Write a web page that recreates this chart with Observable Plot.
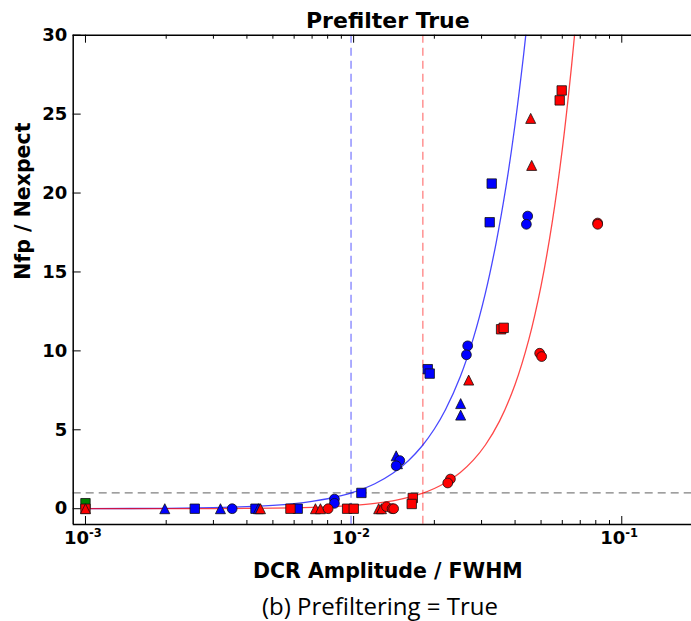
<!DOCTYPE html>
<html>
<head>
<meta charset="utf-8">
<script src="https://cdn.jsdelivr.net/npm/d3@7"></script>
<script src="https://cdn.jsdelivr.net/npm/@observablehq/plot@0.6"></script>
<style>
  html, body { margin: 0; padding: 0; background: #fff; overflow: hidden; }
  #wrap { position: relative; width: 691px; height: 621px; }
  #caption {
    position: absolute; left: 380px; top: 594px; transform: translateX(-50%);
    font-family: "Open Sans", sans-serif; font-size: 24px; line-height: 1;
    white-space: nowrap; color: #000;
  }
</style>
</head>
<body>
<div id="wrap">
  <div id="chart"></div>
  <div id="caption">(b) Prefiltering = True</div>
</div>
<script>
// ---- measurements: DCR amplitude / FWHM vs Nfp / Nexpect ----
const greenSquareX = [0.001];
const greenSquareY = [0.35];

const blueSquareX = [0.002556, 0.004305, 0.006187, 0.01069, 0.01890, 0.01922, 0.03273, 0.03217];
const blueSquareY = [0, 0, 0, 1.0, 8.84, 8.56, 20.6, 18.15];

const blueTriangleX = [0.001976, 0.003187, 0.004416, 0.01441, 0.01457, 0.02507, 0.02507];
const blueTriangleY = [0, 0, 0, 3.35, 2.85, 6.66, 5.93];

const blueCircleX = [0.003524, 0.00848, 0.00848, 0.01486, 0.01441, 0.02663, 0.02634, 0.04458, 0.04408];
const blueCircleY = [0, 0.61, 0.34, 3.05, 2.72, 10.32, 9.75, 18.54, 18.02];

const redSquareX = [0.001, 0.005813, 0.009458, 0.01001, 0.01662, 0.01647, 0.03548, 0.03628, 0.05970, 0.05868];
const redSquareY = [0, 0, 0, 0, 0.68, 0.30, 11.37, 11.46, 26.5, 25.87];

const redTriangleX = [0.001, 0.004494, 0.007205, 0.007521, 0.01240, 0.01270, 0.02686, 0.04574, 0.04613];
const redTriangleY = [0, 0, 0, 0, 0, 0, 8.15, 24.73, 21.75];

const redCircleX = [0.008035, 0.01326, 0.01391, 0.01410, 0.02296, 0.02244, 0.04941, 0.05026, 0.08130, 0.08130];
const redCircleY = [0, 0.13, 0, 0, 1.88, 1.63, 9.85, 9.64, 18.10, 18.02];

// fitted curves
const blueFitX = [0.001, 0.002, 0.003, 0.004, 0.005, 0.006, 0.007, 0.008, 0.009, 0.010, 0.012, 0.014, 0.016, 0.018, 0.020, 0.022, 0.025, 0.028, 0.031, 0.034, 0.037, 0.040, 0.043, 0.045];
const blueFitY = [0.006, 0.027, 0.068, 0.131, 0.217, 0.328, 0.466, 0.631, 0.824, 1.047, 1.584, 2.247, 3.043, 3.975, 5.05, 6.27, 8.38, 10.84, 13.66, 16.85, 20.40, 24.36, 28.70, 31.8];

const redFitX = [0.001, 0.002, 0.003, 0.004, 0.005, 0.006, 0.007, 0.008, 0.009, 0.010, 0.012, 0.014, 0.016, 0.018, 0.020, 0.022, 0.025, 0.028, 0.031, 0.035, 0.040, 0.045, 0.050, 0.055, 0.060, 0.065, 0.068];
const redFitY = [0.0005, 0.003, 0.009, 0.019, 0.034, 0.055, 0.082, 0.116, 0.158, 0.208, 0.336, 0.503, 0.713, 0.971, 1.28, 1.643, 2.298, 3.092, 4.037, 5.547, 7.872, 10.71, 14.12, 18.13, 22.77, 28.09, 31.6];

// thresholds
const blueThreshold = [0.00978];
const redThreshold = [0.01812];
const unityLevel = [1];

// axes
const xDomain = [0.0009, 0.2];
const yDomain = [-1, 30];
const xTickValues = [0.001, 0.01, 0.1];
const xTickBase = ["10", "10", "10"];
const xTickExponents = ["-3", "-2", "-1"];
const yTickValues = [0, 5, 10, 15, 20, 25, 30];
const yTickLabels = ["0", "5", "10", "15", "20", "25", "30"];

// ---- layout ----
const W = 691, H = 592;
const mTop = 34.7, mBottom = H - 524, mLeft = 72.7, mRight = 0;
const frameH = H - mTop - mBottom;
const frameW = W - mLeft - mRight;
const majorLen = 8, minorLen = 4;

const zip = (xs, ys) => xs.map((x, i) => ({x, y: ys[i]}));

// matplotlib-like marker shapes (half-size derived from r)
const mplSquare = {
  draw(ctx, size) {
    const h = Math.sqrt(size / Math.PI);
    ctx.moveTo(-h, -h); ctx.lineTo(h, -h); ctx.lineTo(h, h); ctx.lineTo(-h, h); ctx.closePath();
  }
};
const mplTriangle = {
  draw(ctx, size) {
    const h = Math.sqrt(size / Math.PI);
    ctx.moveTo(0, -h); ctx.lineTo(h, h); ctx.lineTo(-h, h); ctx.closePath();
  }
};

const groups = [
  {x: greenSquareX, y: greenSquareY, fill: "#008000", symbol: mplSquare, r: 4.7},
  {x: blueSquareX, y: blueSquareY, fill: "#0000ff", symbol: mplSquare, r: 4.7},
  {x: blueTriangleX, y: blueTriangleY, fill: "#0000ff", symbol: mplTriangle, r: 5.0},
  {x: blueCircleX, y: blueCircleY, fill: "#0000ff", symbol: "circle", r: 4.9},
  {x: redSquareX, y: redSquareY, fill: "#ff0000", symbol: mplSquare, r: 4.7},
  {x: redTriangleX, y: redTriangleY, fill: "#ff0000", symbol: mplTriangle, r: 5.0},
  {x: redCircleX, y: redCircleY, fill: "#ff0000", symbol: "circle", r: 4.9}
];

// minor log ticks from the scale itself
const minorTicks = d3.scaleLog().domain(xDomain).ticks()
  .filter(t => t > 0.00095 && !xTickValues.some(m => Math.abs(m - t) / m < 1e-9));

const bold = {fontWeight: "bold", fill: "black"};

const chart = Plot.plot({
  width: W,
  height: H,
  marginTop: mTop,
  marginBottom: mBottom,
  marginLeft: mLeft,
  marginRight: mRight,
  x: {type: "log", domain: xDomain, range: [mLeft, 702], axis: null},
  y: {domain: yDomain, axis: null},
  style: {fontFamily: "'DejaVu Sans', sans-serif", background: "white", overflow: "hidden"},
  marks: [
    // reference lines
    Plot.ruleX(blueThreshold, {stroke: "#8080ff", strokeWidth: 1.3, strokeDasharray: "8,5"}),
    Plot.ruleX(redThreshold, {stroke: "#ff8080", strokeWidth: 1.3, strokeDasharray: "8,5"}),
    Plot.ruleY(unityLevel, {stroke: "#808080", strokeWidth: 1.3, strokeDasharray: "8,5"}),

    // fitted curves
    Plot.line(zip(blueFitX, blueFitY), {x: "x", y: "y", stroke: "#0000ff", strokeOpacity: 0.72, strokeWidth: 1.3, curve: "catmull-rom", clip: true}),
    Plot.line(zip(redFitX, redFitY), {x: "x", y: "y", stroke: "#ff0000", strokeOpacity: 0.72, strokeWidth: 1.3, curve: "catmull-rom", clip: true}),

    // measurements
    ...groups.map(g => Plot.dot(zip(g.x, g.y), {
      x: "x", y: "y", r: g.r, symbol: g.symbol, fill: g.fill,
      stroke: "#111", strokeWidth: 0.8
    })),

    // frame (right side lies beyond the visible area)
    Plot.ruleY(yDomain, {stroke: "black", strokeWidth: 1.5}),
    Plot.ruleX([xDomain[0]], {stroke: "black", strokeWidth: 1.5}),

    // inward ticks, bottom and top
    Plot.ruleX(xTickValues, {stroke: "black", strokeWidth: 1, insetTop: frameH - majorLen}),
    Plot.ruleX(xTickValues, {stroke: "black", strokeWidth: 1, insetBottom: frameH - majorLen}),
    Plot.ruleX(minorTicks, {stroke: "black", strokeWidth: 1, insetTop: frameH - minorLen}),
    Plot.ruleX(minorTicks, {stroke: "black", strokeWidth: 1, insetBottom: frameH - minorLen}),
    // inward ticks, left
    Plot.ruleY(yTickValues, {stroke: "black", strokeWidth: 1, insetRight: frameW - majorLen}),

    // y tick labels
    Plot.text(yTickValues, {
      y: d => d, frameAnchor: "left", text: (d, i) => yTickLabels[i],
      textAnchor: "end", dx: -6, fontSize: 18, ...bold
    }),
    // x tick labels: base and superscript exponent
    Plot.text(xTickValues, {
      x: d => d, frameAnchor: "bottom", text: (d, i) => xTickBase[i],
      textAnchor: "end", dx: 3.5, dy: 19.3, fontSize: 18, ...bold
    }),
    Plot.text(xTickValues, {
      x: d => d, frameAnchor: "bottom", text: (d, i) => xTickExponents[i],
      textAnchor: "start", dx: 3.5, dy: 12.3, fontSize: 11.5, ...bold
    }),

    // axis labels and title
    Plot.text(["DCR Amplitude / FWHM"], {
      frameAnchor: "bottom", text: d => d, lineAnchor: "bottom",
      dx: 5.5, dy: 53, fontSize: 20.5, ...bold
    }),
    Plot.text(["Nfp / Nexpect"], {
      frameAnchor: "left", text: d => d, rotate: -90,
      dx: -49.5, fontSize: 20.5, ...bold
    }),
    Plot.text(["Prefilter True"], {
      frameAnchor: "top", text: d => d, lineAnchor: "bottom",
      dx: 5.5, dy: -7.7, fontSize: 22, ...bold
    })
  ]
});

document.getElementById("chart").appendChild(chart);
</script>
</body>
</html>
